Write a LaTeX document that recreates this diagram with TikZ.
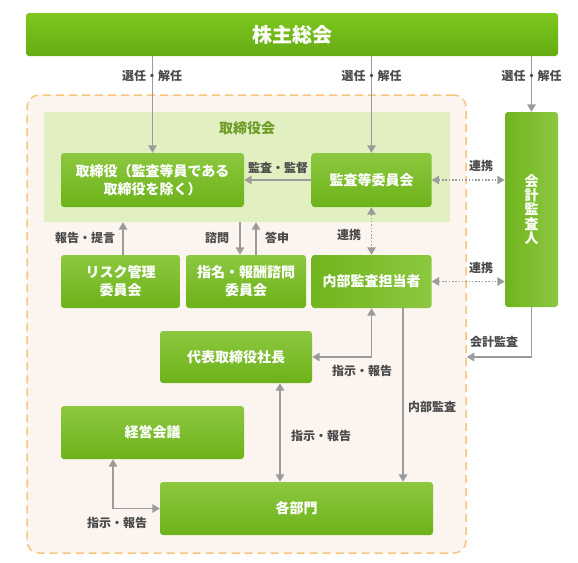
\documentclass[tikz,border=0pt]{standalone}
\usepackage{fontspec}
\setmainfont{Noto Sans CJK JP}
\usetikzlibrary{arrows.meta}

\definecolor{gtop}{HTML}{8DC840}
\definecolor{gbot}{HTML}{6CB21A}
\definecolor{bartop}{HTML}{7EC71E}
\definecolor{barbot}{HTML}{65AC13}
\definecolor{paleg}{HTML}{E2F0C1}
\definecolor{oliv}{HTML}{6F9B28}
\definecolor{orfill}{HTML}{FBF4EF}
\definecolor{orline}{HTML}{F8C57C}
\definecolor{arrgray}{HTML}{9B9B9B}
\definecolor{txtgray}{HTML}{4A4A4A}

\begin{document}
\begin{tikzpicture}[x=1pt,y=-1pt,
    gbox/.style={rounded corners=3pt, top color=gtop, bottom color=gbot, draw=none,
        text=white, font=\fontsize{14}{18}\selectfont\bfseries, align=center,
        inner sep=0pt},
    hbox/.style={gbox, left color=gbot!90!gtop, right color=gtop},
    lbl/.style={text=txtgray, font=\fontsize{12}{14}\selectfont\bfseries, inner sep=0pt},
    arr/.style={draw=arrgray, line width=1.5pt, -{Triangle[width=8.5pt,length=7.5pt]}},
    darr/.style={arr, {Triangle[width=8.5pt,length=7.5pt]}-{Triangle[width=8.5pt,length=7.5pt]}},
    dotarr/.style={darr, dash pattern=on 1.5pt off 1.8pt}]
    \useasboundingbox (0,0) rectangle (578,562);

    % areas
    \node[draw=orline, fill=orfill, line width=1.5pt, dash pattern=on 8pt off 5pt,
        rounded corners=12pt, minimum width=439pt, minimum height=458pt] (shikkou) at (246.5,324) {};
    \node[fill=paleg, minimum width=406pt, minimum height=110pt] (torikai) at (247,167) {};
    \node[text=oliv, font=\fontsize{14}{16}\selectfont\bfseries] at (247,128) {取締役会};

    % boxes
    \node[gbox, top color=bartop, bottom color=barbot, minimum width=532pt, minimum height=43pt,
        font=\fontsize{20}{22}\selectfont\bfseries] (soukai) at (292,34.5) {株主総会};
    \node[gbox, minimum width=183pt, minimum height=54pt] (tori) at (152.5,180) {取締役（監査等員である\\取締役を除く）};
    \node[gbox, minimum width=120pt, minimum height=54pt] (kansa) at (371.5,180) {監査等委員会};
    \node[hbox, minimum width=53pt, minimum height=195pt,
        font=\fontsize{14}{14.3}\selectfont\bfseries] (kaikei) at (531.5,209.5) {会\\計\\監\\査\\人};
    \node[gbox, minimum width=119pt, minimum height=53pt] (risk) at (120.5,281.5) {リスク管理\\委員会};
    \node[gbox, minimum width=120pt, minimum height=53pt] (shimei) at (246,281.5) {指名・報酬諮問\\委員会};
    \node[hbox, minimum width=120pt, minimum height=53pt] (naibu) at (371.5,281.5) {内部監査担当者};
    \node[gbox, minimum width=152pt, minimum height=52pt] (daihyo) at (236,357) {代表取締役社長};
    \node[gbox, minimum width=183pt, minimum height=53pt] (keiei) at (152.5,432.5) {経営会議};
    \node[gbox, minimum width=273pt, minimum height=53pt] (kakubu) at (296.5,508.5) {各部門};

    % connectors
    \draw[arr] (tori.north |- soukai.south) -- (tori.north);
    \draw[arr] (kansa.north |- soukai.south) -- (kansa.north);
    \draw[arr] (kaikei.north |- soukai.south) -- (kaikei.north);
    \draw[arr] (kansa.west) -- (tori.east);
    \draw[dotarr] (kansa.east) -- (kansa.east -| kaikei.west);
    \draw[dotarr] (naibu.east) -- (naibu.east -| kaikei.west);
    \draw[dotarr] (kansa.south) -- (naibu.north);
    \draw[arr] ([xshift=2.5pt]risk.north) -- ([xshift=2.5pt]risk.north |- torikai.south);
    \draw[arr] ([xshift=-6pt]shimei.north |- torikai.south) -- ([xshift=-6pt]shimei.north);
    \draw[arr] ([xshift=10pt]shimei.north) -- ([xshift=10pt]shimei.north |- torikai.south);
    \draw[darr] (naibu.south) |- (daihyo.east);
    \draw[arr] ([xshift=31.5pt]naibu.south) -- ([xshift=31.5pt]naibu.south |- kakubu.north);
    \draw[arr] (kaikei.south) |- (shikkou.east |- daihyo.east);
    \draw[darr] ([xshift=44pt]daihyo.south) -- ([xshift=44pt]daihyo.south |- kakubu.north);
    \draw[darr] ([xshift=-39.5pt]keiei.south) |- (kakubu.west);

    % labels
    \node[lbl] (sen1) at (152,76) {選任・解任};
    \node[lbl] (sen2) at (371.5,76) {選任・解任};
    \node[lbl] (sen3) at (531.5,76) {選任・解任};
    \node[lbl] (kantoku) at (278,168) {監査・監督};
    \node[lbl] (renkei1) at (481,166) {連携};
    \node[lbl] (renkei2) at (481,268) {連携};
    \node[lbl] (renkei3) at (349,235) {連携};
    \node[lbl] (teigen) at (85,238) {報告・提言};
    \node[lbl] (shimon) at (217,238) {諮問};
    \node[lbl] (toushin) at (277,238) {答申};
    \node[lbl] (shiji1) at (362,371) {指示・報告};
    \node[lbl] (naikan) at (432,407) {内部監査};
    \node[lbl] (kaikan) at (494,342) {会計監査};
    \node[lbl] (shiji2) at (321,436) {指示・報告};
    \node[lbl] (shiji3) at (117,523) {指示・報告};
\end{tikzpicture}
\end{document}
